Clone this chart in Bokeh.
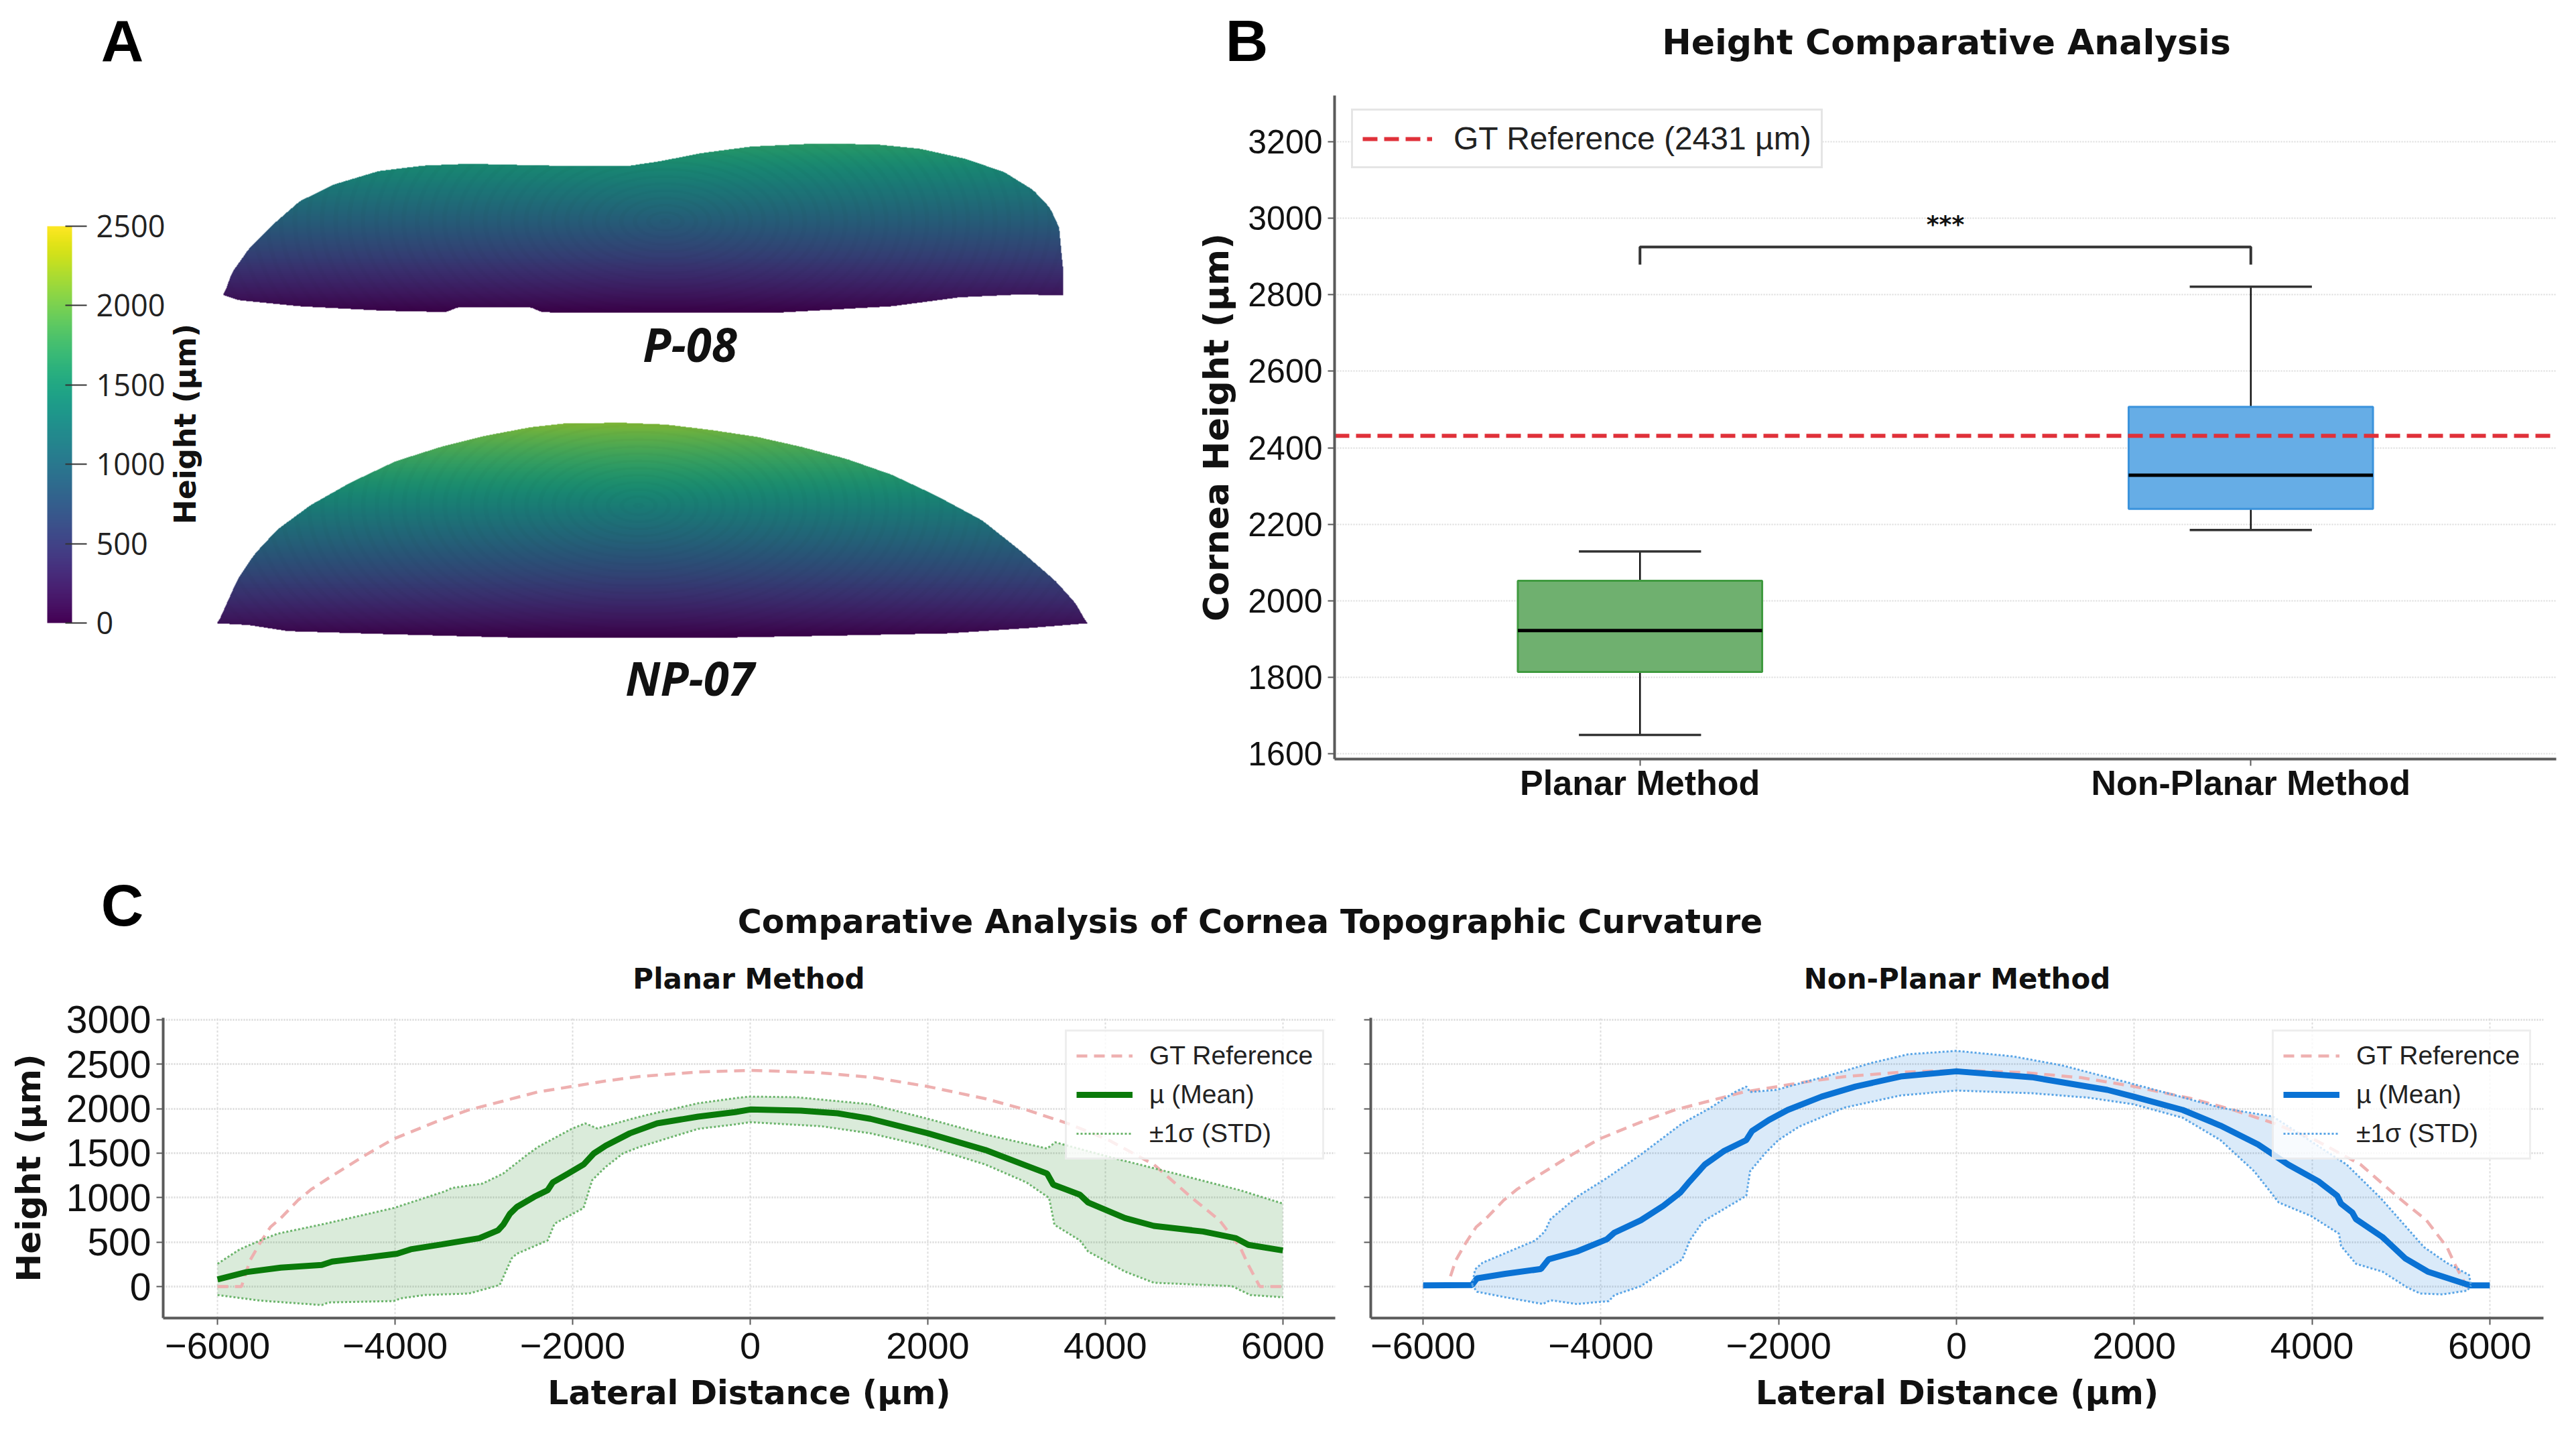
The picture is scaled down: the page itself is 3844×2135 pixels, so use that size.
import numpy as np
from bokeh.core.properties import value
from bokeh.embed import file_html
from bokeh.layouts import column, row
from bokeh.models import ColorBar, FixedTicker, LinearColorMapper, Range1d
from bokeh.palettes import Viridis256
from bokeh.plotting import figure
from bokeh.resources import INLINE

# ---------- Panel A surfaces (lateral position, height in µm) ----------
P_TOP_X = [341,353,379,412,454,505,572,639,707,791,875,942,993,1052,1128,1220,1313,1380,1448,1506,1549,1574,1591,1593]
P_TOP_H = [175,395,636,855,1096,1261,1393,1447,1465,1452,1441,1441,1491,1568,1634,1662,1656,1612,1513,1382,1206,1031,789,241]
P_BOT_X = [341,362,454,581,673,690,799,816,1001,1170,1338,1439,1523,1593]
P_BOT_H = [175,127,66,22,9,55,55,7,0,4,66,154,180,175]
NP_TOP_X = [332,341,362,387,421,471,530,597,665,732,799,850,934,1001,1069,1136,1203,1271,1338,1405,1473,1532,1582,1612,1629]
NP_TOP_H = [145,276,583,825,1066,1307,1526,1735,1877,1987,2070,2107,2114,2096,2042,1976,1877,1757,1603,1395,1154,846,561,342,145]
NP_BOT_X = [332,379,437,581,749,808,934,1069,1254,1422,1548,1629]
NP_BOT_H = [145,127,68,39,9,0,2,2,24,46,101,145]
CBAR_TICKS = [0,500,1000,1500,2000,2500]

# ---------- Panel B ----------
METHODS = ["Planar Method","Non-Planar Method"]
WHISK_LOW = [1649,2185]
Q1 = [1814,2240]
MEDIAN = [1922,2328]
Q3 = [2052,2507]
WHISK_HIGH = [2129,2821]
GT_HEIGHT = 2431
B_TICKS = [1600,1800,2000,2200,2400,2600,2800,3000,3200]

# ---------- Panel C ----------
GT_X = [-6000,-5730,-5634,-5518,-5403,-5287,-5094,-4940,-4747,-4324,-4016,-3553,-3168,-2782,-2397,-2012,-1626,-1241,-593,0,754,1401,2003,2650,3113,3575,4038,4547,4963,5287,5518,5611,5740,6000]
GT_Y = [0,0,293,494,670,770,970,1096,1221,1484,1660,1848,1986,2086,2187,2249,2312,2362,2412,2431,2407,2349,2249,2112,1986,1835,1647,1372,1008,745,444,243,0,0]

PL_MEAN_X = [-6000,-5672,-5287,-4825,-4709,-4324,-3977,-3823,-3476,-3052,-2840,-2782,-2705,-2628,-2435,-2281,-2224,-2050,-1877,-1761,-1626,-1356,-1048,-587,-171,0,569,985,1355,2003,2650,3344,3414,3714,3807,4223,4547,5102,5472,5611,6000]
PL_MEAN_Y = [80,163,213,243,281,326,369,419,474,544,632,695,820,895,1008,1083,1171,1271,1372,1497,1585,1723,1835,1910,1961,1991,1978,1948,1886,1723,1535,1271,1146,1033,945,770,682,619,544,469,406]
PL_UP_X = [-6000,-5749,-5518,-5325,-4786,-4016,-3438,-3361,-3014,-2782,-2493,-2377,-2012,-1857,-1723,-1241,-587,-125,0,523,1355,2003,2650,3344,3437,4038,4732,5518,6000]
PL_UP_Y = [256,419,519,594,707,883,1071,1108,1158,1271,1497,1577,1773,1835,1778,1911,2061,2124,2136,2129,2049,1886,1710,1552,1622,1459,1284,1083,933]
PL_LO_X = [-6000,-5518,-4825,-4748,-4016,-3939,-3669,-3168,-2821,-2686,-2628,-2281,-2204,-1877,-1780,-1626,-1433,-1241,-587,-171,0,800,1355,2003,2650,3113,3367,3427,3714,3807,4223,4547,5426,5634,6000]
PL_LO_Y = [-95,-158,-208,-178,-163,-133,-95,-78,18,318,369,519,707,883,1196,1347,1497,1572,1773,1823,1848,1803,1723,1572,1372,1171,996,695,519,394,168,43,5,-95,-120]

NP_MEAN_X = [-6000,-5449,-5394,-5076,-4674,-4589,-4271,-3932,-3847,-3551,-3297,-3106,-3000,-2831,-2619,-2364,-2301,-2110,-1898,-1517,-1136,-627,0,848,1696,1993,2545,2969,3393,3732,4071,4283,4326,4453,4495,4792,5047,5301,5725,5789,6000]
NP_MEAN_Y = [13,18,93,143,198,306,394,532,607,745,908,1058,1184,1372,1522,1647,1748,1873,1986,2136,2249,2362,2420,2354,2212,2136,1986,1810,1597,1372,1184,1021,933,833,757,557,318,168,30,13,13]
NP_UP_X = [-5449,-5415,-5331,-4737,-4631,-4568,-4271,-3932,-3551,-3085,-2788,-2492,-2364,-2322,-2025,-1475,-966,-542,0,636,1187,1908,2375,2969,3562,4389,4771,5259,5513,5767,5789]
NP_UP_Y = [18,193,268,519,619,757,1008,1221,1484,1835,1998,2187,2249,2187,2212,2362,2512,2612,2650,2588,2487,2299,2174,2011,1911,1372,996,444,268,130,13]
NP_LO_X = [-5449,-5394,-5076,-4653,-4568,-4271,-3911,-3847,-3551,-3085,-3000,-2852,-2364,-2322,-2153,-2004,-1771,-1263,-627,0,848,1484,1993,2545,2969,3350,3626,3986,4304,4326,4495,4792,5068,5216,5471,5746,5789]
NP_LO_Y = [18,-58,-120,-196,-153,-196,-163,-95,5,306,519,732,1021,1296,1497,1647,1798,2011,2149,2204,2174,2124,2049,1898,1647,1296,945,795,594,457,256,168,-8,-78,-88,-45,13]
C_XTICKS = [-6000,-4000,-2000,0,2000,4000,6000]
C_YTICKS = [0,500,1000,1500,2000,2500,3000]

# ---------- Styling ----------
BOLD_DV = "DejaVu Sans"
ARIAL = "Liberation Sans"
SANS = "Open Sans"
GREEN = "#0a7a0a"
BLUE = "#0a72d4"
SPINE = "#5a5a5a"
GRID = "#dcdcdc"
INK = "#111111"

FULL_W = 3828
HEAD_H = 142      # y 8..150
TOP_H = 1090      # y 150..1240
A_W = 1776
B_W = FULL_W - A_W
T_H = 257         # y 1240..1497
ROW_Y0 = 1497
C_H = 630         # y 1497..2127
CL_W = 2007
CR_W = FULL_W - CL_W


def blank(w, h, xr, yr, **kw):
    p = figure(width=w, height=h, x_range=xr, y_range=yr, output_backend="svg",
               toolbar_location=None, min_border=0,
               x_axis_location=None, y_axis_location=None, **kw)
    p.grid.visible = False
    p.outline_line_color = None
    return p


def label(p, x, y, text, font, size, style="bold", angle=0.0, color=INK):
    p.text(x=[x], y=[y], text=[text], angle=[angle], text_font=value(font), text_font_size=size,
           text_font_style=style, text_align="center", text_baseline="middle", text_color=color)


# ---------- Header row: panel letters and the title of panel B ----------
ph = blank(FULL_W, HEAD_H, Range1d(8, 8 + FULL_W), Range1d(0, HEAD_H))
label(ph, 190, 150 - 68, "A", ARIAL, "88px", color="black")
label(ph, 1868, 150 - 68, "B", ARIAL, "88px", color="black")
label(ph, 2912, 150 - 70, "Height Comparative Analysis", BOLD_DV, "52px")

# ---------- Panel A ----------
pa = figure(width=A_W, height=TOP_H, x_range=Range1d(8, 8 + A_W), y_range=Range1d(100, 1090),
            output_backend="svg", toolbar_location=None, min_border_left=0, min_border_right=0,
            min_border_top=0, min_border_bottom=100, x_axis_location=None, y_axis_location=None)
pa.grid.visible = False
pa.outline_line_color = None
Y_OF = lambda real: 1240 - real
PX_PER_UM = 0.152
pal = np.array([[int(c[i:i+2], 16) for i in (1, 3, 5)] for c in Viridis256], dtype=float)


def smooth(v, k=9):
    pad = np.pad(v, k, mode="edge")
    return np.convolve(pad, np.ones(k) / k, mode="same")[k:-k]


def surface(top_x, top_h, bot_x, bot_h, base, ring_x, ring_h):
    x0, x1 = min(top_x), max(top_x)
    xs = np.arange(x0, x1 + 1.0)
    t = smooth(np.interp(xs, top_x, top_h))
    b = smooth(np.interp(xs, bot_x, bot_h))
    n = int(max(top_h) * PX_PER_UM) + 2
    hs = np.arange(n) / PX_PER_UM
    H, X = np.meshgrid(hs, xs, indexing="ij")
    inside = (H <= t[None, :]) & (H >= b[None, :])
    idx = np.clip(H / 2500 * 255, 0, 255).astype(int)
    dist = np.hypot((X - ring_x) / 1.9, (H - ring_h) * PX_PER_UM)
    terr = 1 - 0.02 * (np.sin(dist / 1.7) > 0.55)
    rgb = pal[idx] * 0.84 * terr[..., None]
    img = np.zeros((n, xs.size, 4), dtype=np.uint8)
    img[..., :3] = np.clip(rgb, 0, 255).astype(np.uint8)
    img[..., 3] = np.where(inside, 255, 0)
    pa.image_rgba(image=[img.view(dtype=np.uint32).reshape(n, xs.size)], x=[x0], y=[Y_OF(base)],
                  dw=[xs.size], dh=[n])


surface(P_TOP_X, P_TOP_H, P_BOT_X, P_BOT_H, 475, 1000, 900)
surface(NP_TOP_X, NP_TOP_H, NP_BOT_X, NP_BOT_H, 960, 960, 1300)

label(pa, 1037, Y_OF(520), "P-08", SANS, "69px", "bold italic")
label(pa, 1037, Y_OF(1018), "NP-07", SANS, "69px", "bold italic")
label(pa, 284, Y_OF(640), "Height (µm)", BOLD_DV, "44px", angle=np.pi / 2)
cm = LinearColorMapper(palette=Viridis256, low=0, high=2500)
cb = ColorBar(color_mapper=cm, width=37, height=592, padding=0, location=(70, 203),
              ticker=FixedTicker(ticks=CBAR_TICKS), major_tick_in=10, major_tick_out=22,
              major_tick_line_color="#333333", major_tick_line_width=2, bar_line_color=None,
              border_line_color=None, background_fill_alpha=0, label_standoff=14,
              major_label_text_font=SANS, major_label_text_font_size="45px",
              major_label_text_color="#222222")
pa.add_layout(cb, "center")


def style_axis(ax, tick_font, tick_size, tick_bold=False, standoff=8):
    ax.axis_line_color = SPINE
    ax.axis_line_width = 4
    ax.major_tick_line_color = SPINE
    ax.major_tick_line_width = 2
    ax.major_tick_in = 0
    ax.major_tick_out = 10
    ax.minor_tick_line_color = None
    ax.major_label_text_font = tick_font
    ax.major_label_text_font_size = tick_size
    ax.major_label_text_color = INK
    ax.major_label_text_font_style = "bold" if tick_bold else "normal"
    ax.major_label_standoff = standoff


def axis_title(ax, text, size, standoff):
    ax.axis_label = text
    ax.axis_label_text_font = BOLD_DV
    ax.axis_label_text_font_size = size
    ax.axis_label_text_font_style = "bold"
    ax.axis_label_text_color = INK
    ax.axis_label_standoff = standoff


# ---------- Panel B ----------
pb = figure(width=B_W, height=TOP_H, x_range=Range1d(-0.5, 1.5), y_range=Range1d(1586, 3321),
            output_backend="svg", toolbar_location=None,
            min_border_left=215, min_border_right=14, min_border_top=0, min_border_bottom=100)
pb.outline_line_color = None
pb.xgrid.visible = False
pb.ygrid.grid_line_color = GRID
pb.ygrid.grid_line_dash = "2 2"
pb.ygrid.grid_line_width = 2
pb.ygrid.ticker = FixedTicker(ticks=B_TICKS)
pb.xaxis.ticker = FixedTicker(ticks=[0, 1])
pb.xaxis.major_label_overrides = {i: m for i, m in enumerate(METHODS)}
pb.yaxis.ticker = FixedTicker(ticks=B_TICKS)
style_axis(pb.xaxis[0], ARIAL, "52px", True, -4)
style_axis(pb.yaxis[0], ARIAL, "50px")
axis_title(pb.yaxis[0], "Cornea Height (µm)", "52px", 14)

bx = [0, 1]
pb.segment(bx, Q3, bx, WHISK_HIGH, line_color="#111111", line_width=2.5)
pb.segment(bx, Q1, bx, WHISK_LOW, line_color="#111111", line_width=2.5)
pb.segment([x - 0.1 for x in bx], WHISK_HIGH, [x + 0.1 for x in bx], WHISK_HIGH, line_color="#333333", line_width=3.5)
pb.segment([x - 0.1 for x in bx], WHISK_LOW, [x + 0.1 for x in bx], WHISK_LOW, line_color="#333333", line_width=3.5)
pb.vbar(x=bx, width=0.4, bottom=Q1, top=Q3, fill_color=["#6fb06f", "#66ade6"],
        line_color=["#3f9a3f", "#3b93dc"], line_width=3)
pb.segment([x - 0.2 for x in bx], MEDIAN, [x + 0.2 for x in bx], MEDIAN, line_color="black", line_width=5)
pb.line([-0.5, 1.5], [GT_HEIGHT, GT_HEIGHT], line_color="#e0313a", line_width=6, line_dash="22 10",
        legend_label="GT Reference (2431 µm)")
pb.line([0, 0, 1, 1], [2879, 2925, 2925, 2879], line_color="#333333", line_width=4)
label(pb, 0.5, 2985, "***", BOLD_DV, "36px")
lg = pb.legend[0]
lg.location = (25, 881)
lg.label_text_font = ARIAL
lg.label_text_font_size = "48px"
lg.label_text_color = "#222222"
lg.glyph_width = 104
lg.glyph_height = 50
lg.label_standoff = 32
lg.padding = 14
lg.margin = 0
lg.border_line_color = "#cccccc"
lg.border_line_width = 3
lg.background_fill_alpha = 1

# ---------- Title row of panel C ----------
pt = blank(FULL_W, T_H, Range1d(8, 8 + FULL_W), Range1d(0, T_H))
YT = lambda real: ROW_Y0 - real
label(pt, 190, YT(1358), "C", ARIAL, "88px", color="black")
label(pt, 1873, YT(1383), "Comparative Analysis of Cornea Topographic Curvature", BOLD_DV, "49px")
label(pt, 1125, YT(1468), "Planar Method", BOLD_DV, "42px")
label(pt, 2928, YT(1468), "Non-Planar Method", BOLD_DV, "42px")


# ---------- Panel C ----------
def curve_panel(w, xr, left_border, right_border, show_y,
                mean_x, mean_y, up_x, up_y, lo_x, lo_y, color, dot, legend_x):
    p = figure(width=w, height=C_H, x_range=Range1d(*xr), y_range=Range1d(-354, 3022),
               output_backend="svg", toolbar_location=None,
               min_border_left=left_border, min_border_right=right_border,
               min_border_top=1526 - ROW_Y0, min_border_bottom=2127 - 1974)
    p.outline_line_color = None
    for g, dash, lw in ((p.xgrid, "3 3", 2), (p.ygrid, "2 2", 3)):
        g.grid_line_color = GRID
        g.grid_line_dash = dash
        g.grid_line_width = lw
    p.xgrid.ticker = FixedTicker(ticks=C_XTICKS)
    p.ygrid.ticker = FixedTicker(ticks=C_YTICKS)
    p.xaxis.ticker = FixedTicker(ticks=C_XTICKS)
    p.yaxis.ticker = FixedTicker(ticks=C_YTICKS)
    p.xaxis.major_label_overrides = {t: str(t).replace("-", "−") for t in C_XTICKS}
    style_axis(p.xaxis[0], ARIAL, "56px", False, 12)
    style_axis(p.yaxis[0], ARIAL, "57px")
    axis_title(p.xaxis[0], "Lateral Distance (µm)", "49px", 20)
    if show_y:
        axis_title(p.yaxis[0], "Height (µm)", "50px", 24)
    else:
        p.yaxis.major_label_overrides = {t: "" for t in C_YTICKS}

    bx_all = sorted(set(up_x) | set(lo_x))
    p.varea(x=bx_all, y1=np.interp(bx_all, lo_x, lo_y), y2=np.interp(bx_all, up_x, up_y),
            fill_color=color, fill_alpha=0.15)
    p.line(GT_X, GT_Y, line_color="#eeb0b0", line_width=4.5, line_dash="16 10", legend_label="GT Reference")
    p.line(mean_x, mean_y, line_color=color, line_width=9, legend_label="µ (Mean)")
    p.line(up_x, up_y, line_color=dot, line_width=3, line_dash="3 3", legend_label="±1σ (STD)")
    p.line(lo_x, lo_y, line_color=dot, line_width=3, line_dash="3 3")
    lg = p.legend[0]
    lg.location = (legend_x, 1974 - 1738)
    lg.label_text_font = ARIAL
    lg.label_text_font_size = "39px"
    lg.label_text_color = "#222222"
    lg.glyph_width = 84
    lg.glyph_height = 40
    lg.label_standoff = 25
    lg.padding = 14
    lg.spacing = 14
    lg.margin = 0
    lg.border_line_color = "#dddddd"
    lg.border_line_width = 3
    lg.background_fill_alpha = 0.8
    return p


pcl = curve_panel(CL_W, (-6612, 6590), 243, 15, True,
                  PL_MEAN_X, PL_MEAN_Y, PL_UP_X, PL_UP_Y, PL_LO_X, PL_LO_Y,
                  GREEN, "#6db56d", 1597 - 251)
pcr = curve_panel(CR_W, (-6589, 6604), 38, 33, False,
                  NP_MEAN_X, NP_MEAN_Y, NP_UP_X, NP_UP_Y, NP_LO_X, NP_LO_Y,
                  BLUE, "#5aa5e6", 3398 - 2053)

layout = column(ph, row(pa, pb, spacing=0), pt, row(pcl, pcr, spacing=0), spacing=0)
open("out.html", "w").write(file_html(layout, INLINE))
